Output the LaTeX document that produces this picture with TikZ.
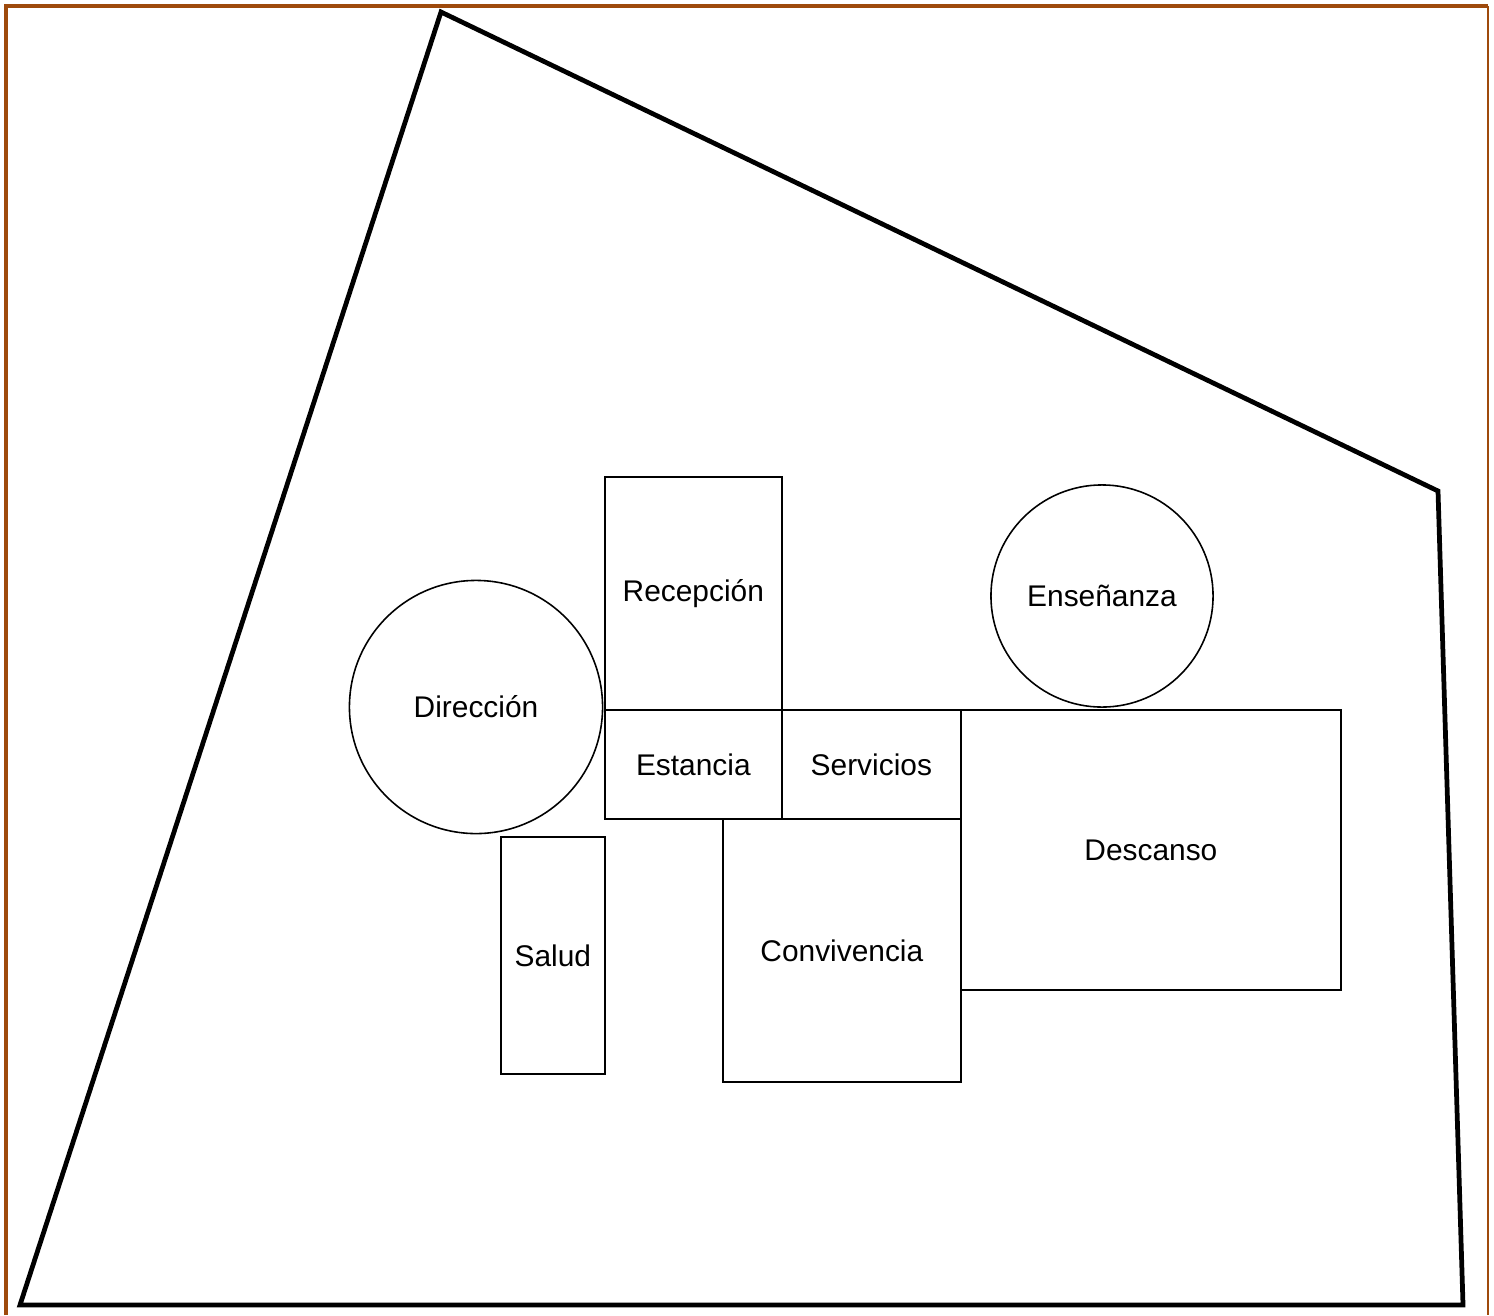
\documentclass[tikz,border=0pt]{standalone}
\usepackage{fontspec}
\setmainfont{Liberation Sans}
\usepackage{tikz}
\usetikzlibrary{shapes,positioning}
\definecolor{FrameBrown}{RGB}{158,74,12}
\tikzset{
	room/.style={
		draw,line width=0.45pt,inner sep=0pt,anchor=north west,
		font=\fontsize{8.5}{10}\selectfont},
	hall/.style={
		draw,circle,line width=0.45pt,inner sep=0pt,
		font=\fontsize{8.5}{10}\selectfont},
	site/.style={line width=1.35pt,line join=miter}
}

\begin{document}
\begin{tikzpicture}[x=0.01cm,y=-0.01cm]
	\useasboundingbox (0,0) rectangle (1494,1315);
	% marco
	\draw[FrameBrown,line width=1.2pt] (6,1315) -- (6,6) -- (1488,6);
	\draw[FrameBrown,line width=0.6pt] (1488,6) -- (1488,1315);
	% terreno
	\coordinate (n1) at (441,12);
	\coordinate (n2) at (1438,491);
	\coordinate (n3) at (1463,1305);
	\coordinate (n4) at (20,1305);
	\draw[site] (n1) -- (n2) -- (n3) -- (n4) -- cycle;
	% espacios
	\node[room,minimum width=1.77cm,minimum height=2.33cm] (recep) at (604,476) {Recepción};
	\node[room,minimum width=1.77cm,minimum height=1.09cm] (estan) at (604,709) {Estancia};
	\node[room,minimum width=1.79cm,minimum height=1.09cm] (serv) at (781,709) {Servicios};
	\node[room,minimum width=3.80cm,minimum height=2.80cm] (desc) at (960,709) {Descanso};
	\node[room,minimum width=2.38cm,minimum height=2.63cm] (conv) at (722,818) {\raisebox{-0.5ex}{Convivencia}};
	\node[room,minimum width=1.04cm,minimum height=2.37cm] (salud) at (500,836) {\raisebox{-0.4ex}{Salud}};
	\node[hall,minimum size=2.53cm] (direc) at (476,707) {\raisebox{-0.4ex}{Dirección}\hspace{1.2ex}};
	\node[hall,minimum size=2.22cm] (ense) at (1102,596) {Enseñanza};
\end{tikzpicture}
\end{document}
